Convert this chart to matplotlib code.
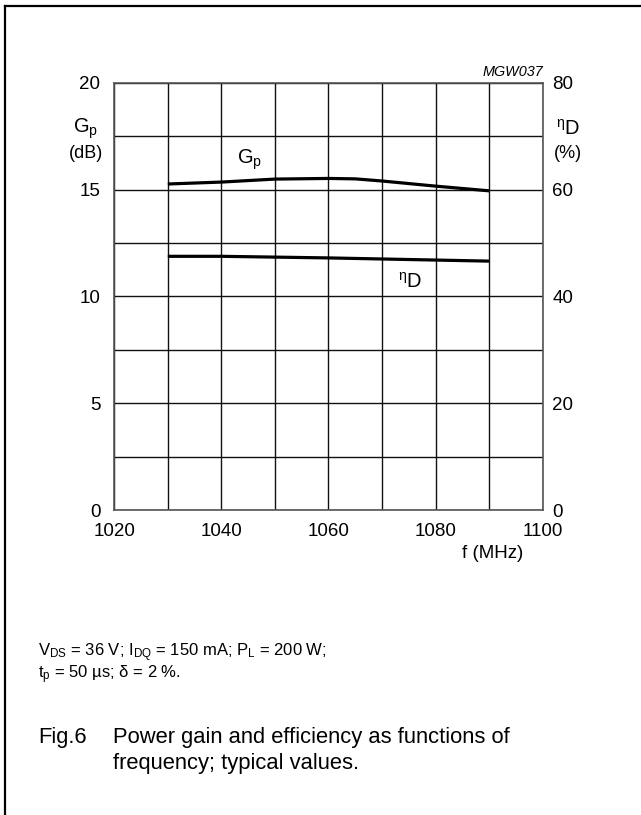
import matplotlib
matplotlib.use("Agg")
import matplotlib.pyplot as plt
from matplotlib.lines import Line2D

plt.rcParams['font.family'] = ['Liberation Sans', 'DejaVu Sans']
plt.rcParams['mathtext.fontset'] = 'custom'
plt.rcParams['mathtext.rm'] = 'Liberation Sans'
plt.rcParams['mathtext.it'] = 'Liberation Sans:italic'

# Data
freq = [1030, 1040, 1050, 1060, 1065, 1070, 1080, 1090]
gain_db = [15.26, 15.35, 15.49, 15.52, 15.50, 15.40, 15.16, 14.94]
eff_freq = [1030, 1040, 1050, 1060, 1070, 1080, 1090]
eff_pct = [47.5, 47.5, 47.35, 47.2, 47.0, 46.8, 46.6]

x_ticks = [1020, 1040, 1060, 1080, 1100]
gain_ticks = [0, 5, 10, 15, 20]
eff_ticks = [0, 20, 40, 60, 80]

fig = plt.figure(figsize=(6.41, 8.15), dpi=100)

# outer frame (left and top only visible)
fig.add_artist(Line2D([4.5 / 641, 4.5 / 641], [0, 1 - 5.5 / 815], color='black', lw=1.6))
fig.add_artist(Line2D([4.5 / 641, 1], [1 - 5.5 / 815, 1 - 5.5 / 815], color='black', lw=1.6))

ax = fig.add_axes([0.1783, 0.3742, 0.6683, 0.5243])
ax.set_xlim(1020, 1100)
ax.set_ylim(0, 20)
ax.set_xticks(x_ticks)
ax.set_xticks(range(1020, 1101, 10), minor=True)
ax.set_yticks(gain_ticks)
ax.set_yticks([i * 2.5 for i in range(9)], minor=True)
ax.grid(True, which='both', color='#111111', lw=1.0)
ax.tick_params(which='both', length=0, labelsize=13.5)
ax.tick_params(axis='x', pad=9)
ax.tick_params(axis='y', pad=10)
for s in ax.spines.values():
    s.set_color('#555555')
    s.set_linewidth(1.2)

ax.plot(freq, gain_db, color='black', lw=2.3, solid_capstyle='butt', zorder=3)

ax2 = ax.twinx()
ax2.set_ylim(0, 80)
ax2.set_yticks(eff_ticks)
ax2.tick_params(length=0, labelsize=13.5, pad=7)
for s in ax2.spines.values():
    s.set_visible(False)
ax2.plot(eff_freq, eff_pct, color='black', lw=2.3, solid_capstyle='butt', zorder=3)

# curve labels
ax.text(1045.2, 16.4, r'G$_\mathregular{p}$', fontsize=14.5, ha='center', va='center')
ax.text(1075.2, 10.7, r'$^\mathregular{\eta}$D', fontsize=14.5, ha='center', va='center')

# axis labels
fig.text(86 / 641, 1 - 129 / 815, r'G$_\mathregular{p}$', fontsize=14.5, ha='center', va='center')
fig.text(86 / 641, 1 - 153 / 815, '(dB)', fontsize=13, ha='center', va='center')
fig.text(568 / 641, 1 - 129 / 815, r'$^\mathregular{\eta}$D', fontsize=14.5, ha='center', va='center')
fig.text(568 / 641, 1 - 153 / 815, '(%)', fontsize=13, ha='center', va='center')
fig.text(493 / 641, 1 - 554 / 815, 'f (MHz)', fontsize=13.5, ha='center', va='center')
fig.text(543 / 641, 1 - 72 / 815, 'MGW037', fontsize=10.4, style='italic', ha='right', va='center')

# notes and caption
fig.text(38 / 641, 1 - 653 / 815,
         r'V$_\mathregular{DS}$ = 36 V; I$_\mathregular{DQ}$ = 150 mA; P$_\mathregular{L}$ = 200 W;',
         fontsize=12, ha='left', va='center')
fig.text(38 / 641, 1 - 675 / 815, r't$_\mathregular{p}$ = 50 µs; δ = 2 %.',
         fontsize=12, ha='left', va='center')
fig.text(38 / 641, 1 - 738 / 815, 'Fig.6', fontsize=15.8, ha='left', va='center')
fig.text(113 / 641, 1 - 738 / 815, 'Power gain and efficiency as functions of',
         fontsize=15.8, ha='left', va='center')
fig.text(113 / 641, 1 - 764 / 815, 'frequency; typical values.',
         fontsize=15.8, ha='left', va='center')

fig.savefig('out.png', dpi=100)
